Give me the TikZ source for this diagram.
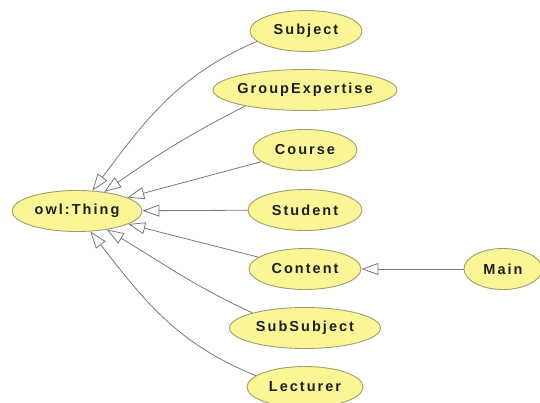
\documentclass[tikz,border=0pt]{standalone}
\usepackage{fontspec}
\newfontfamily\owlfont[LetterSpace=14]{Liberation Sans}
\usetikzlibrary{arrows.meta,shapes.geometric}
\definecolor{clsfill}{RGB}{250,246,150}
\definecolor{clsline}{RGB}{160,158,110}
\definecolor{isaline}{RGB}{120,120,128}
\definecolor{clstext}{RGB}{30,30,30}

\begin{document}
\begin{tikzpicture}[x=1pt,y=1pt,
  cls/.style={ellipse,draw=clsline,fill=clsfill,line width=0.9pt,
    minimum height=41pt,inner xsep=-20pt,inner ysep=0pt,text=clstext,
    font=\owlfont\bfseries\fontsize{14.5}{14.5}\selectfont},
  isa/.style={draw=isaline,line width=0.8pt,
    -{Triangle[open,length=17pt,width=12pt]}}]
  \useasboundingbox (0,-403) rectangle (540,0);

  \node[cls,minimum width=130pt] (thing)      at ( 77,-211) {owl:Thing};
  \node[cls,minimum width=112pt] (subject)    at (306, -31) {Subject};
  \node[cls,minimum width=184pt] (groupexp)   at (305, -90) {GroupExpertise};
  \node[cls,minimum width=104pt] (course)     at (305,-150) {Course};
  \node[cls,minimum width=114pt] (student)    at (305,-210) {Student};
  \node[cls,minimum width=112pt] (content)    at (305,-269) {Content};
  \node[cls,minimum width=151pt] (subsubject) at (305,-328) {SubSubject};
  \node[cls,minimum width=116pt] (lecturer)   at (305,-387) {Lecturer};
  \node[cls,minimum width= 78pt] (main)       at (503,-269) {Main};

  \draw[isa] (subject.192)    to[out=203,in=53]  (thing.53);
  \draw[isa] (groupexp.195)   to[out=207,in=35]  (thing.35);
  \draw[isa] (course)         --                 (thing);
  \draw[isa] (student)        --                 (thing);
  \draw[isa] (content)        --                 (thing);
  \draw[isa] (subsubject.164) to[out=155,in=-31] (thing.-32);
  \draw[isa] (lecturer.167)   to[out=158,in=-52] (thing.-57);
  \draw[isa] (main)           --                 (content);
\end{tikzpicture}
\end{document}
